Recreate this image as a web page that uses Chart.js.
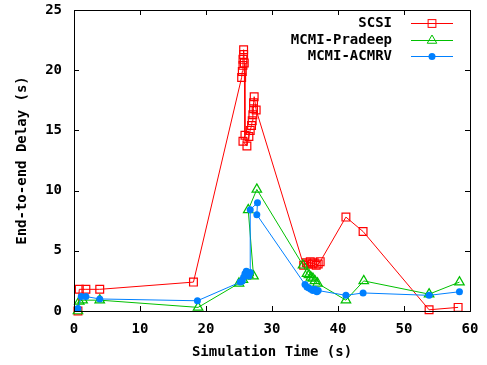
<!DOCTYPE html>
<html>
<head>
<meta charset="utf-8">
<script src="https://cdn.jsdelivr.net/npm/chart.js@4/dist/chart.umd.min.js"></script>
<style>
  html, body { margin: 0; padding: 0; background: #fff; }
  #wrap { width: 487px; height: 365px; position: relative; }
</style>
</head>
<body>
<div id="wrap"><canvas id="c" width="487" height="365"></canvas></div>
<script>
// ---- data ----
const seriesNames = ["SCSI", "MCMI-Pradeep", "MCMI-ACMRV"];

const scsiX = [0.6, 0.8, 1.8, 3.9, 18.1, 25.4, 25.5, 25.6, 25.6, 25.7, 25.7, 25.8, 25.9, 25.6, 26.2, 26.5, 26.7, 26.9, 27.0, 27.1, 27.2, 27.2, 27.3, 27.6, 34.8, 35.2, 35.5, 35.8, 36.1, 36.4, 36.7, 37.0, 37.3, 41.2, 43.8, 53.8, 58.2];
const scsiY = [0.0, 1.8, 1.8, 1.8, 2.4, 19.4, 19.9, 20.4, 20.9, 21.3, 21.7, 20.6, 14.6, 14.1, 13.7, 14.5, 15.0, 15.4, 15.8, 16.3, 16.8, 17.3, 17.8, 16.7, 3.8, 4.0, 3.9, 4.1, 3.9, 4.0, 3.8, 3.9, 4.1, 7.8, 6.6, 0.1, 0.3];

const pradeepX = [0.6, 0.8, 1.3, 3.9, 18.8, 25.0, 25.6, 26.0, 26.4, 27.2, 26.4, 27.7, 34.7, 35.3, 35.6, 35.9, 36.2, 36.5, 36.9, 41.2, 43.9, 53.8, 58.4];
const pradeepY = [0.0, 0.8, 0.9, 0.9, 0.3, 2.3, 2.6, 2.9, 3.0, 2.9, 8.4, 10.1, 3.8, 3.1, 3.0, 2.8, 2.7, 2.5, 2.3, 0.9, 2.5, 1.4, 2.4];

const acmrvX = [0.6, 1.1, 1.8, 3.9, 18.7, 25.2, 25.5, 25.7, 25.9, 26.1, 26.3, 26.5, 26.7, 26.7, 27.8, 27.7, 35.0, 35.3, 35.6, 35.9, 36.2, 36.5, 36.8, 37.0, 41.2, 43.8, 53.8, 58.4];
const acmrvY = [0.2, 1.2, 1.2, 1.0, 0.85, 2.4, 2.5, 2.8, 3.1, 3.3, 3.0, 2.9, 3.2, 8.4, 9.0, 8.0, 2.2, 2.0, 1.9, 1.8, 1.7, 1.8, 1.6, 1.7, 1.3, 1.5, 1.3, 1.6];

const xTicks = [0, 10, 20, 30, 40, 50, 60];
const yTicks = [0, 5, 10, 15, 20, 25];
const xTitle = "Simulation Time (s)";
const yTitle = "End-to-end Delay (s)";

// ---- build chart ----
const pts = (xs, ys) => xs.map((x, i) => ({ x: x, y: ys[i] }));
const FONT = "'DejaVu Sans Mono', monospace";
const RED = '#ff0000', GREEN = '#00c000', BLUE = '#0080ff';

const frameAndTicks = {
  id: 'frameAndTicks',
  afterDatasetsDraw(chart) {
    const ctx = chart.ctx, a = chart.chartArea;
    const xs = chart.scales.x, ys = chart.scales.y;
    const L = 5;
    ctx.save();
    ctx.strokeStyle = '#000';
    ctx.lineWidth = 1;
    ctx.beginPath();
    xTicks.forEach(v => {
      const px = Math.round(xs.getPixelForValue(v)) + 0.5;
      ctx.moveTo(px, a.bottom); ctx.lineTo(px, a.bottom - L);
      ctx.moveTo(px, a.top); ctx.lineTo(px, a.top + L);
    });
    yTicks.forEach(v => {
      const py = Math.round(ys.getPixelForValue(v)) + 0.5;
      ctx.moveTo(a.left, py); ctx.lineTo(a.left + L, py);
      ctx.moveTo(a.right, py); ctx.lineTo(a.right - L, py);
    });
    ctx.stroke();
    ctx.strokeRect(Math.round(a.left) + 0.5, Math.round(a.top) + 0.5,
                   Math.round(a.right - a.left), Math.round(a.bottom - a.top));
    ctx.restore();
  }
};

const keyPlugin = {
  id: 'keyPlugin',
  afterDraw(chart) {
    const ctx = chart.ctx;
    const textRight = 392, lineL = 411, lineR = 453, mx = 432;
    const rows = [23, 40, 56];
    ctx.save();
    ctx.font = "bold 14px " + FONT;
    ctx.textAlign = 'right';
    ctx.textBaseline = 'middle';
    chart.data.datasets.forEach((ds, i) => {
      const y = rows[i] + 0.5;
      ctx.fillStyle = '#000';
      ctx.fillText(ds.label, textRight, rows[i]);
      ctx.strokeStyle = ds.borderColor;
      ctx.lineWidth = 1;
      ctx.beginPath(); ctx.moveTo(lineL, y); ctx.lineTo(lineR, y); ctx.stroke();
      const r = ds.pointRadius;
      if (ds.pointStyle === 'rect') {
        const s = Math.SQRT1_2 * r;
        ctx.strokeRect(mx - s, y - s, 2 * s, 2 * s);
      } else if (ds.pointStyle === 'triangle') {
        ctx.beginPath();
        ctx.moveTo(mx, y - r);
        ctx.lineTo(mx + r * 0.866, y + r * 0.5);
        ctx.lineTo(mx - r * 0.866, y + r * 0.5);
        ctx.closePath(); ctx.stroke();
      } else {
        ctx.fillStyle = ds.borderColor;
        ctx.beginPath(); ctx.arc(mx, y, r, 0, Math.PI * 2); ctx.fill();
      }
    });
    ctx.restore();
  }
};

new Chart(document.getElementById('c'), {
  type: 'scatter',
  data: {
    datasets: [
      { label: seriesNames[0], data: pts(scsiX, scsiY), showLine: true, borderColor: RED, backgroundColor: 'rgba(0,0,0,0)',
        borderWidth: 1, pointStyle: 'rect', pointRadius: 5.5, pointBorderWidth: 1.2, tension: 0, order: 3, clip: false },
      { label: seriesNames[1], data: pts(pradeepX, pradeepY), showLine: true, borderColor: GREEN, backgroundColor: 'rgba(0,0,0,0)',
        borderWidth: 1, pointStyle: 'triangle', pointRadius: 5.5, pointBorderWidth: 1.2, tension: 0, order: 2, clip: false },
      { label: seriesNames[2], data: pts(acmrvX, acmrvY), showLine: true, borderColor: BLUE, backgroundColor: BLUE,
        borderWidth: 1, pointStyle: 'circle', pointRadius: 3.5, pointBorderWidth: 0, tension: 0, order: 1, clip: false }
    ]
  },
  options: {
    responsive: false,
    animation: false,
    events: [],
    layout: { padding: { left: 0, right: 17, top: 10, bottom: 0 } },
    plugins: { legend: { display: false }, tooltip: { enabled: false } },
    scales: {
      x: {
        type: 'linear', min: 0, max: 60,
        afterBuildTicks: s => { s.ticks = xTicks.map(v => ({ value: v })); },
        afterFit: s => { s.height = 54; s.paddingLeft = 0; s.paddingRight = 0; },
        grid: { display: false, drawTicks: false },
        border: { display: false },
        ticks: { color: '#000', font: { family: FONT, size: 14, weight: 'bold' }, padding: 10, maxRotation: 0 },
        title: { display: true, text: xTitle, color: '#000', font: { family: FONT, size: 14, weight: 'bold' }, padding: { top: 0, bottom: 4 } }
      },
      y: {
        type: 'linear', min: 0, max: 25,
        afterBuildTicks: s => { s.ticks = yTicks.map(v => ({ value: v })); },
        afterFit: s => { s.width = 74; s.paddingTop = 0; s.paddingBottom = 0; },
        grid: { display: false, drawTicks: false },
        border: { display: false },
        ticks: { color: '#000', font: { family: FONT, size: 14, weight: 'bold' }, padding: 12 },
        title: { display: true, text: yTitle, color: '#000', font: { family: FONT, size: 14, weight: 'bold' }, padding: { top: 14, bottom: 0 } }
      }
    }
  },
  plugins: [frameAndTicks, keyPlugin]
});
</script>
</body>
</html>
